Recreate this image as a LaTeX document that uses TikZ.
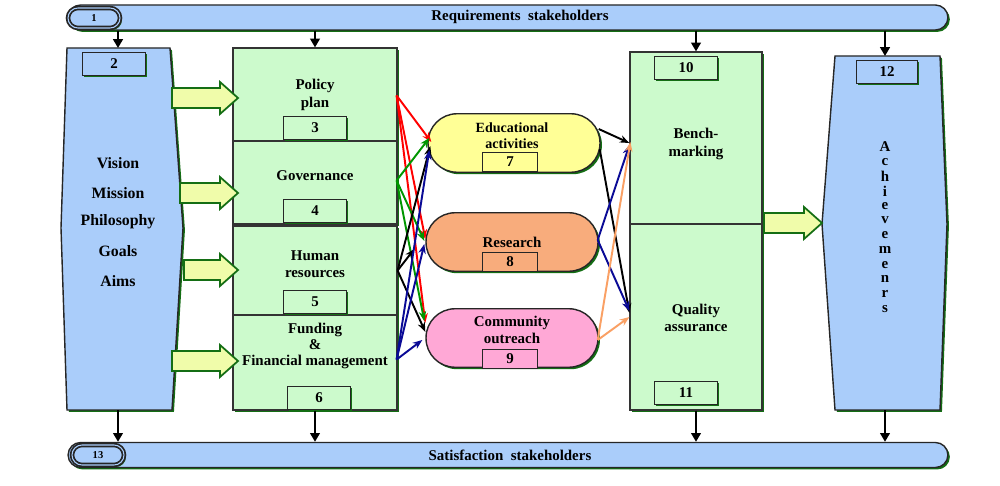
\documentclass[tikz,border=0pt]{standalone}
\usepackage{fontspec}
\setmainfont{Liberation Serif}
\usetikzlibrary{calc,shadows,arrows.meta}
\definecolor{bl}{RGB}{170,205,250}
\definecolor{lg}{RGB}{204,250,204}
\definecolor{dg}{RGB}{20,110,20}
\definecolor{yl}{RGB}{255,255,150}
\definecolor{ya}{RGB}{240,252,170}
\definecolor{orr}{RGB}{248,172,124}
\definecolor{pk}{RGB}{255,168,214}
\definecolor{nv}{RGB}{10,10,150}
\definecolor{gr}{RGB}{0,150,0}
\definecolor{oa}{RGB}{250,160,100}
\begin{document}
\begin{tikzpicture}[x=0.02cm,y=-0.02cm,
  font=\bfseries\fontsize{8.5}{10}\selectfont,
  sh/.style={drop shadow={shadow xshift=1.1pt,shadow yshift=-1.1pt,fill=dg,opacity=1}},
  gbox/.style={draw=black!80,fill=lg,sh,inner sep=0,line width=0.7pt,minimum width=3.28cm},
  numbox/.style={draw=black!85,line width=0.8pt,minimum width=1.26cm,minimum height=0.46cm,inner sep=0,sh},
  onum/.style={draw=black!85,line width=0.8pt,minimum width=1.1cm,minimum height=0.38cm,inner sep=0},
  oval/.style={draw=black!85,line width=0.8pt,sh,minimum width=3.44cm,minimum height=1.17cm,rounded corners=0.58cm,inner sep=0},
  bar/.style={draw=black!85,fill=bl,line width=0.8pt,sh,minimum width=17.6cm,minimum height=0.5cm,rounded corners=0.25cm,inner sep=0},
  pill/.style={draw=black!85,fill=bl,line width=1pt,sh,double=bl,double distance=0.6pt,minimum width=1.04cm,minimum height=0.4cm,rounded corners=0.2cm,inner sep=0,font=\bfseries\fontsize{6}{7}\selectfont},
  darr/.style={draw=black,line width=1.1pt,-{Triangle[length=5pt,width=5.5pt]}},
  carr/.style={line width=1.1pt,-{Stealth[length=5.5pt,width=4.2pt]}},
  yarrow/.style={draw=dg,fill=ya,line width=1pt},
  txt/.style={align=center,inner sep=0}]
\useasboundingbox[fill=white] (0,0) rectangle (1000,486);

% top and bottom bars
\node[bar] (req) at (508,17.5) {};
\node[pill] (p1) at (94,18) {1};
\node[txt] (reqt) at (520,17) {Requirements\ \ stakeholders};
\node[bar] (sat) at (508,455) {};
\node[pill] (p13) at (98,455) {13};
\node[txt] (satt) at (510,455) {Satisfaction\ \ stakeholders};

% box 2
\path[draw=black!85,fill=bl,line width=0.8pt,sh] (67,48) -- (170,48) -- (183,228) -- (172,410) -- (67,410) -- (61,228) -- cycle;
\coordinate (b2n) at (118,48);
\coordinate (b2s) at (118,410);
\node[numbox,fill=bl] (n2) at (114,64) {2};
\foreach \t/\yy in {Vision/163,Mission/193,Philosophy/222,Goals/251,Aims/281}
  \node[txt,font=\bfseries\fontsize{9}{10}\selectfont] (v\yy) at (118,\yy) {\t};

% box 12
\path[draw=black!85,fill=bl,line width=0.8pt,sh] (835,56) -- (940,56) -- (947,224) -- (940,410) -- (835,410) -- (822,224) -- cycle;
\coordinate (b12n) at (885,56);
\coordinate (b12s) at (885,410);
\node[numbox,fill=bl,minimum width=1.22cm] (n12) at (887,72) {12};
\foreach \c [count=\i from 0] in {A,c,h,i,e,v,e,m,e,n,r,s}
  \node[txt] (a\i) at (885,{147+14.7*\i}) {\c};

% green column
\node[gbox,minimum height=1.86cm] (pp) at (315,94.5) {};
\node[gbox,minimum height=1.66cm] (gov) at (315,182.5) {};
\node[gbox,minimum height=1.78cm] (hr) at (315,270.5) {};
\node[gbox,minimum height=1.9cm] (fund) at (315,362.5) {};
\node[txt] (ppt) at (315,95) {Policy\\plan};
\node[numbox,fill=lg] (n3) at (315,128) {3};
\node[txt] (govt) at (315,176) {Governance};
\node[numbox,fill=lg] (n4) at (315,211) {4};
\node[txt] (hrt) at (315,264) {Human\\resources};
\node[numbox,fill=lg] (n5) at (315,302) {5};
\node[txt,font=\bfseries\fontsize{8.5}{9}\selectfont] (fundt) at (315,346) {Funding\\\&\\Financial management};
\node[numbox,fill=lg] (n6) at (319,398) {6};

% bench / quality column
\node[gbox,minimum width=2.64cm,minimum height=3.44cm] (bm) at (696,138) {};
\node[gbox,minimum width=2.64cm,minimum height=3.72cm] (qa) at (696,317) {};
\node[numbox,fill=lg] (n10) at (686,68) {10};
\node[numbox,fill=lg] (n11) at (686,393) {11};
\node[txt] (bmt) at (696,144) {Bench-\\marking};
\node[txt] (qat) at (696,318) {Quality\\assurance};

% ovals
\node[oval,fill=yl] (ed) at (514,143) {};
\node[txt,font=\bfseries\fontsize{8}{9}\selectfont] (edt) at (512,136) {Educational\\activities};
\node[onum,fill=yl] (n7) at (510,162) {7};
\node[oval,fill=orr] (res) at (512,242) {};
\node[txt] (rest) at (512,242) {Research};
\node[onum,fill=orr] (n8) at (510,262) {8};
\node[oval,fill=pk] (com) at (512,338) {};
\node[txt] (comt) at (512,330) {Community\\outreach};
\node[onum,fill=pk] (n9) at (510,359) {9};

% yellow block arrows
\newcommand\yarr[3]{\path[yarrow] (#1,#3-10) -- (#2-18,#3-10) -- (#2-18,#3-16) -- (#2,#3) -- (#2-18,#3+16) -- (#2-18,#3+10) -- (#1,#3+10) -- cycle;}
\yarr{172}{238}{98}
\yarr{180}{238}{193}
\yarr{184}{238}{270}
\yarr{172}{238}{361}
\yarr{764}{822}{223}

% down arrows
\draw[darr] (req.south -| b2n) -- (b2n);
\draw[darr] (req.south -| pp.north) -- (pp.north);
\draw[darr] (req.south -| bm.north) -- (bm.north);
\draw[darr] (req.south -| b12n) -- (b12n);
\draw[darr] (b2s) -- (sat.north -| b2s);
\draw[darr] (fund.south) -- (sat.north -| fund.south);
\draw[darr] (qa.south) -- (sat.north -| qa.south);
\draw[darr] (b12s) -- (sat.north -| b12s);

% connectors left
\coordinate (po) at ($(pp.east)+(-1,1)$);
\coordinate (go) at ($(gov.east)+(-1,-2)$);
\coordinate (ho) at ($(hr.east)+(0,0)$);
\coordinate (fo) at ($(fund.east)+(-1,-3)$);
\draw[carr,red] (po) -- ($(ed.west)+(4,-1)$);
\draw[carr,red] (po) -- ($(res.west)+(0,-3)$);
\draw[carr,red] (po) -- ($(com.west)+(0,-15)$);
\draw[carr,gr] (go) -- ($(ed.west)+(2,-5)$);
\draw[carr,gr] (go) -- ($(res.west)+(-1,-1)$);
\draw[carr,gr] (go) -- ($(com.west)+(-1,-17)$);
\draw[carr,black] (ho) -- ($(ed.west)+(3,3)$);
\draw[carr,black] (ho) -- ($(res.west)+(-11,7)$);
\draw[carr,black] (ho) -- ($(com.west)+(0,-6)$);
\draw[carr,nv] (fo) -- ($(ed.west)+(2,7)$);
\draw[carr,nv] (fo) -- ($(res.west)+(-1,2)$);
\draw[carr,nv] (fo) -- ($(com.west)+(-3,2)$);

% connectors right
\coordinate (eo1) at ($(ed.east)+(-2,-14)$);
\coordinate (eo2) at ($(ed.east)+(-1,6)$);
\coordinate (ro) at ($(res.east)+(-1,-2)$);
\coordinate (co) at ($(com.east)+(-1,2)$);
\coordinate (bmi) at ($(bm.west)+(0,5)$);
\coordinate (qai) at ($(qa.west)+(0,-4)$);
\draw[carr,black] (eo1) -- (bmi);
\draw[carr,black] (eo2) -- (qai);
\draw[carr,nv] (ro) -- ($(bmi)+(0,2)$);
\draw[carr,nv] (ro) -- ($(qai)+(0,-2)$);
\draw[carr,oa] (co) -- ($(bmi)+(1,-1)$);
\draw[carr,oa] (co) -- ($(qai)+(0,4)$);
\end{tikzpicture}
\end{document}
